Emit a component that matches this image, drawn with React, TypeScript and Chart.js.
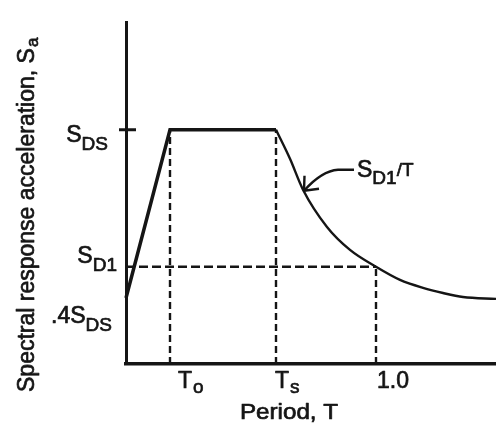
import React, { useEffect, useRef } from "react";
import { Chart, registerables } from "chart.js";

Chart.register(...registerables);

// ---- values (SDS normalised to 1) ----
const SDS = 1.0;
const SD1 = 0.415;
const SDS_04 = 0.282;
const T0 = 0.176;
const TS = 0.6;
const T1 = 1.0;
const X_MAX = 1.48;
const Y_MAX = 1.46;

const rampT = [0, T0, TS];
const rampSa = [SDS_04, SDS, SDS];

const decayT = [0.6, 0.656, 0.708, 0.804, 0.896, 1.0, 1.096, 1.188, 1.268, 1.348, 1.48];
const decaySa = [1.0, 0.876, 0.744, 0.585, 0.487, 0.415, 0.359, 0.325, 0.303, 0.286, 0.278];

const xTickValues = [T0, TS, T1];
const xTickMain = ["T", "T", "1.0"];
const xTickSub = ["o", "s", ""];

const yTickValues = [SDS, SD1, SDS_04];
const yTickMain = ["S", "S", ".4S"];
const yTickSub = ["DS", "D1", "DS"];

const xTitle = "Period, T";
const yTitleMain = "Spectral response acceleration, S";
const yTitleSub = "a";

const curveLabelMain = "S";
const curveLabelSub = "D1";
const curveLabelTail = "/T";
const arrowTipIndex = 2;

// ---- styles / positions (not data) ----
const FONT = '"Liberation Sans", Arial, Helvetica, sans-serif';
const INK = "#151515";
const TEXT_STROKE = 0.7;
const yLabelOffsets = [
  { dx: -18, dy: 12 },
  { dx: -9, dy: -4 },
  { dx: -14, dy: 25 },
];
const xLabelOffsets = [8, -1, 1];

function pts(xs: number[], ys: number[]) {
  return xs.map((x, i) => ({ x, y: ys[i] }));
}

function txt(ctx: CanvasRenderingContext2D, s: string, x: number, y: number) {
  ctx.fillText(s, x, y);
  ctx.lineWidth = TEXT_STROKE;
  ctx.strokeText(s, x, y);
}

const labelsPlugin = {
  id: "labelsPlugin",
  afterDraw(chart: any) {
    const ctx: CanvasRenderingContext2D = chart.ctx;
    const xs = chart.scales.x;
    const ys = chart.scales.y;
    const area = chart.chartArea;
    const ax = xs.getPixelForValue(0);
    ctx.save();
    ctx.fillStyle = INK;
    ctx.strokeStyle = INK;
    ctx.lineJoin = "round";
    ctx.textBaseline = "alphabetic";

    // tick mark at SDS
    ctx.lineWidth = 3;
    ctx.beginPath();
    const ySds = ys.getPixelForValue(SDS);
    ctx.moveTo(ax - 7, ySds);
    ctx.lineTo(ax + 10, ySds);
    ctx.stroke();

    const mainF = `23px ${FONT}`;
    const subF = `19px ${FONT}`;

    // y labels (right aligned)
    yTickValues.forEach((v, i) => {
      const py = ys.getPixelForValue(v) + yLabelOffsets[i].dy;
      const right = ax + yLabelOffsets[i].dx;
      ctx.font = subF;
      const ws = ctx.measureText(yTickSub[i]).width;
      ctx.font = mainF;
      const wm = ctx.measureText(yTickMain[i]).width;
      ctx.textAlign = "left";
      txt(ctx, yTickMain[i], right - ws - wm, py);
      ctx.font = subF;
      txt(ctx, yTickSub[i], right - ws, py + 8);
    });

    // x labels (left aligned near tick)
    xTickValues.forEach((v, i) => {
      const left = xs.getPixelForValue(v) + xLabelOffsets[i];
      const by = area.bottom + 24;
      ctx.textAlign = "left";
      ctx.font = mainF;
      txt(ctx, xTickMain[i], left, by);
      const wm = ctx.measureText(xTickMain[i]).width;
      if (xTickSub[i]) {
        ctx.font = subF;
        txt(ctx, xTickSub[i], left + wm + 1, by + 5);
      }
    });

    // x title (slightly wide lettering)
    ctx.save();
    ctx.translate(area.left + 163, area.bottom + 55);
    ctx.scale(1.1, 1);
    ctx.font = `22px ${FONT}`;
    ctx.textAlign = "center";
    txt(ctx, xTitle, 0, 0);
    ctx.restore();

    // y title (rotated)
    ctx.save();
    ctx.translate(34, area.bottom + 28);
    ctx.rotate(-Math.PI / 2);
    ctx.textAlign = "left";
    ctx.font = `23px ${FONT}`;
    txt(ctx, yTitleMain, 0, 0);
    const wt = ctx.measureText(yTitleMain).width;
    ctx.font = `17px ${FONT}`;
    txt(ctx, yTitleSub, wt + 1, 4);
    ctx.restore();

    // curve annotation with arrow
    const tipX = xs.getPixelForValue(decayT[arrowTipIndex]) + 1;
    const tipY = ys.getPixelForValue(decaySa[arrowTipIndex]) + 1;
    ctx.lineWidth = 2.4;
    ctx.beginPath();
    ctx.moveTo(tipX + 50, tipY - 21);
    ctx.lineTo(tipX + 34, tipY - 21);
    ctx.quadraticCurveTo(tipX + 18, tipY - 20, tipX, tipY);
    ctx.stroke();
    ctx.beginPath();
    ctx.moveTo(tipX + 15, tipY - 2);
    ctx.lineTo(tipX, tipY);
    ctx.lineTo(tipX + 0.5, tipY - 15);
    ctx.stroke();

    const lx = tipX + 53;
    const ly = tipY - 14;
    ctx.textAlign = "left";
    ctx.font = mainF;
    txt(ctx, curveLabelMain, lx, ly);
    let w = ctx.measureText(curveLabelMain).width;
    ctx.font = subF;
    txt(ctx, curveLabelSub, lx + w, ly + 7);
    w += ctx.measureText(curveLabelSub).width;
    txt(ctx, curveLabelTail, lx + w, ly - 1);

    ctx.restore();
  },
};

export default function App() {
  const ref = useRef<HTMLCanvasElement | null>(null);
  useEffect(() => {
    document.body.style.margin = "0";
    if (!ref.current) return;
    const solid = { borderColor: INK, pointRadius: 0, showLine: true, fill: false, clip: false as any };
    const dashed = { ...solid, borderWidth: 2.4 };
    const chart = new Chart(ref.current, {
      type: "scatter",
      data: {
        datasets: [
          { ...solid, data: pts(rampT, rampSa), borderWidth: 3.5, borderJoinStyle: "miter" } as any,
          { ...solid, data: pts(decayT, decaySa), borderWidth: 2.4, cubicInterpolationMode: "monotone" } as any,
          { ...dashed, data: [{ x: 0, y: SD1 }, { x: T1, y: SD1 }], borderDash: [9, 4] } as any,
          { ...dashed, data: [{ x: T0, y: 0 }, { x: T0, y: SDS }], borderDash: [7, 4] } as any,
          { ...dashed, data: [{ x: TS, y: 0 }, { x: TS, y: SDS }], borderDash: [7, 4] } as any,
          { ...dashed, data: [{ x: T1, y: 0 }, { x: T1, y: SD1 }], borderDash: [7, 4] } as any,
        ],
      },
      options: {
        animation: false,
        responsive: true,
        maintainAspectRatio: false,
        layout: { padding: { left: 126, top: 22, right: 0, bottom: 61 } },
        plugins: { legend: { display: false }, tooltip: { enabled: false } },
        scales: {
          x: {
            type: "linear",
            min: 0,
            max: X_MAX,
            ticks: { display: false },
            grid: { display: false, drawTicks: false },
            border: { display: true, color: INK, width: 3.5 },
          },
          y: {
            type: "linear",
            min: 0,
            max: Y_MAX,
            ticks: { display: false },
            grid: { display: false, drawTicks: false },
            border: { display: true, color: INK, width: 3 },
          },
        },
      },
      plugins: [labelsPlugin],
    });
    return () => chart.destroy();
  }, []);
  return (
    <div style={{ width: 496, height: 425, position: "relative", background: "#fff" }}>
      <canvas ref={ref} />
    </div>
  );
}
